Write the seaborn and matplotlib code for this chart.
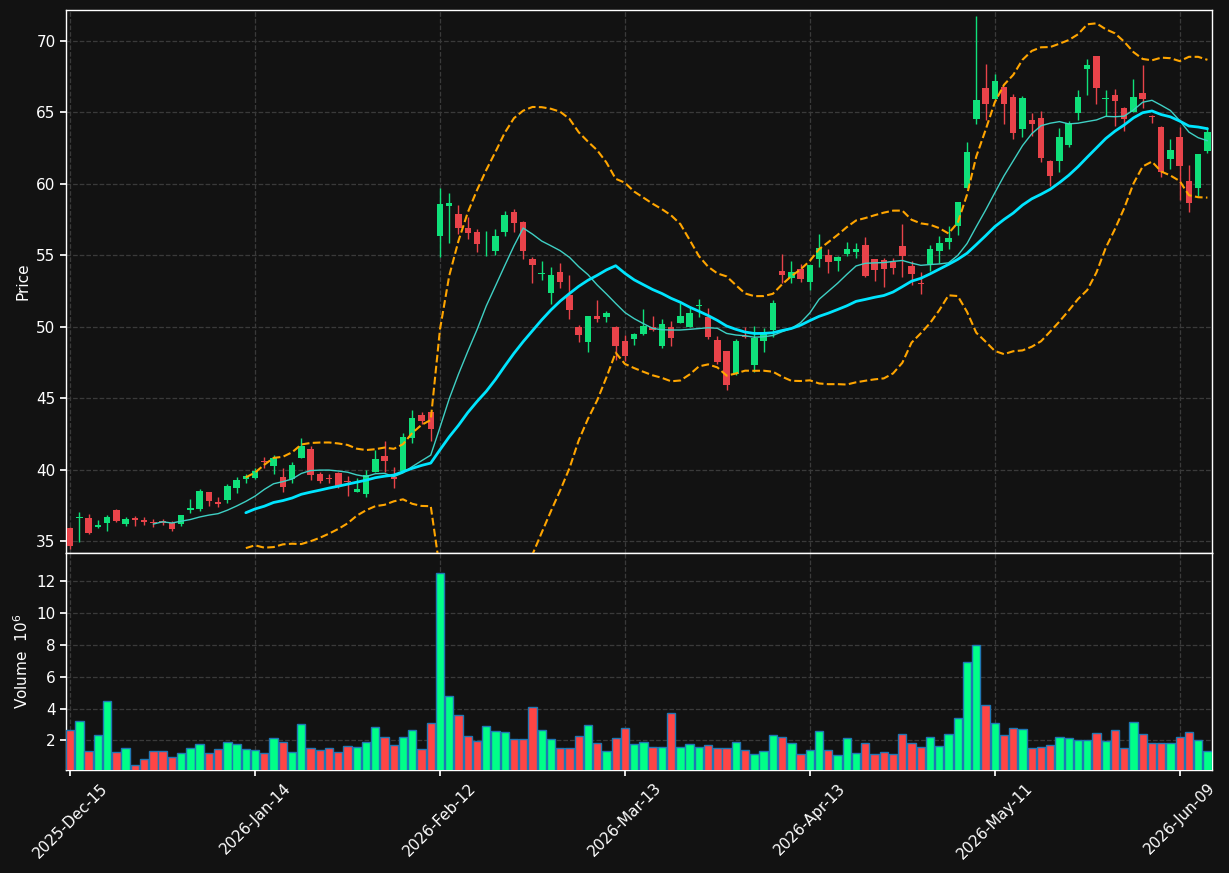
import numpy as np
import pandas as pd
import matplotlib
matplotlib.use("Agg")
import matplotlib.pyplot as plt
import seaborn as sns

# daily OHLC
opens = [35.94, 36.60, 36.64, 35.96, 36.29, 37.20, 36.22, 36.60, 36.50, 36.36,
         36.43, 36.27, 36.22, 37.14, 37.23, 38.40, 37.70, 37.86, 38.71, 39.32,
         39.41, 40.61, 40.23, 39.46, 39.34, 40.80, 41.43, 39.69, 39.41, 39.77,
         39.20, 38.43, 38.31, 39.86, 40.94, 39.46, 39.91, 42.20, 43.83, 44.04,
         56.35, 58.46, 57.87, 56.89, 56.61, 55.90, 55.27, 56.61, 58.04, 57.33,
         54.74, 53.66, 52.35, 53.80, 52.19, 50.01, 48.91, 50.78, 50.67, 50.01,
         48.97, 49.13, 49.48, 49.99, 48.62, 50.01, 50.24, 49.97, 51.47, 50.68,
         49.04, 48.27, 46.72, 49.36, 47.32, 48.99, 49.76, 53.91, 53.38, 54.05,
         53.10, 54.77, 55.02, 54.60, 55.09, 55.26, 55.73, 54.72, 54.68, 54.56,
         55.65, 54.26, 53.05, 54.37, 55.32, 55.96, 57.02, 59.69, 64.53, 66.71,
         65.94, 66.80, 66.11, 63.82, 64.50, 64.64, 61.63, 61.59, 62.75, 64.94,
         68.02, 68.97, 65.92, 66.25, 65.34, 65.03, 66.34, 64.78, 64.01, 61.73,
         63.29, 60.23, 59.70, 62.31]
highs = [35.96, 37.04, 36.90, 36.48, 36.85, 37.22, 36.71, 36.74, 36.71, 36.55,
         36.55, 36.43, 36.85, 37.96, 38.66, 38.42, 38.08, 38.97, 39.48, 39.69,
         40.12, 40.85, 41.00, 40.14, 40.52, 42.18, 41.62, 39.86, 39.69, 39.81,
         39.53, 39.41, 40.00, 41.36, 42.00, 40.19, 42.54, 44.15, 44.06, 44.06,
         59.74, 59.39, 58.53, 57.68, 56.87, 56.68, 56.87, 58.13, 58.22, 57.40,
         54.90, 54.57, 54.20, 54.48, 53.64, 50.15, 50.78, 51.84, 51.13, 50.03,
         49.43, 49.55, 51.24, 50.75, 50.55, 50.43, 51.64, 51.40, 51.96, 51.31,
         49.36, 48.29, 49.11, 49.97, 50.06, 49.90, 51.87, 55.07, 54.58, 54.40,
         54.33, 56.48, 55.42, 54.98, 55.92, 55.85, 56.27, 54.75, 54.84, 54.84,
         57.18, 54.63, 53.82, 55.72, 56.34, 57.02, 58.76, 62.96, 71.77, 68.41,
         67.71, 66.82, 66.29, 66.18, 64.97, 65.10, 61.65, 63.92, 64.43, 66.57,
         68.76, 68.99, 66.57, 66.64, 65.36, 67.34, 68.34, 64.80, 64.03, 63.15,
         63.99, 61.33, 62.12, 64.01]
lows = [34.44, 34.93, 35.49, 35.89, 35.70, 36.31, 36.03, 36.08, 36.10, 35.96,
        36.13, 35.73, 36.03, 36.95, 37.09, 37.44, 37.37, 37.68, 38.38, 39.08,
        39.34, 40.10, 39.70, 38.43, 39.08, 40.80, 39.30, 39.04, 39.08, 38.71,
        38.15, 38.43, 38.08, 39.86, 39.81, 38.71, 39.91, 41.88, 43.19, 41.97,
        54.90, 55.88, 56.47, 56.16, 55.23, 54.95, 55.04, 56.37, 56.63, 54.71,
        53.05, 53.24, 51.56, 52.73, 50.55, 48.91, 48.21, 50.34, 50.34, 47.70,
        47.58, 48.74, 49.43, 49.69, 48.48, 48.64, 50.24, 49.97, 50.68, 49.13,
        47.37, 45.60, 46.65, 49.20, 46.83, 48.25, 49.29, 53.05, 53.05, 53.12,
        52.54, 54.20, 53.73, 53.92, 54.95, 54.84, 53.45, 53.22, 52.78, 53.68,
        53.47, 52.94, 52.31, 53.91, 54.44, 55.45, 56.41, 59.69, 64.18, 64.48,
        65.94, 64.20, 63.15, 63.29, 63.33, 61.54, 59.84, 60.84, 62.59, 64.48,
        66.22, 65.59, 64.76, 64.03, 63.68, 65.03, 65.31, 64.27, 60.49, 61.05,
        58.90, 58.02, 59.14, 62.17]
closes = [34.62, 36.70, 35.59, 36.10, 36.71, 36.43, 36.57, 36.46, 36.36, 36.29,
          36.24, 35.82, 36.85, 37.28, 38.47, 37.77, 37.58, 38.87, 39.30, 39.53,
          39.93, 40.52, 40.80, 38.76, 40.30, 41.67, 39.60, 39.20, 39.32, 38.87,
          39.10, 38.62, 39.65, 40.73, 40.59, 39.32, 42.25, 43.62, 43.38, 42.84,
          58.57, 58.64, 56.89, 56.56, 55.79, 55.95, 56.33, 57.80, 57.26, 55.30,
          54.32, 53.78, 53.59, 53.12, 51.16, 49.40, 50.78, 50.53, 50.97, 48.68,
          47.93, 49.52, 50.08, 49.80, 50.22, 49.20, 50.78, 50.99, 51.54, 49.25,
          47.53, 45.93, 48.97, 49.27, 49.18, 49.52, 51.68, 53.65, 53.82, 53.31,
          54.33, 55.49, 54.55, 54.88, 55.42, 55.42, 53.54, 53.94, 54.03, 54.14,
          54.98, 53.66, 52.98, 55.44, 55.83, 56.20, 58.76, 62.20, 65.87, 65.61,
          67.18, 65.57, 63.54, 66.04, 64.17, 61.79, 60.54, 63.31, 64.27, 66.11,
          68.34, 66.69, 66.04, 65.78, 64.57, 66.11, 65.97, 64.66, 60.82, 62.40,
          61.28, 58.65, 62.12, 63.66]
# volume in millions
volume = [2.67, 3.22, 1.35, 2.34, 4.49, 1.29, 1.52, 0.47, 0.83, 1.33,
          1.33, 0.97, 1.22, 1.52, 1.77, 1.22, 1.46, 1.90, 1.77, 1.46,
          1.39, 1.22, 2.17, 1.90, 1.29, 3.03, 1.52, 1.39, 1.52, 1.29,
          1.66, 1.58, 1.90, 2.86, 2.23, 1.71, 2.23, 2.65, 1.46, 3.09,
          12.52, 4.79, 3.59, 2.29, 1.96, 2.90, 2.59, 2.52, 2.08, 2.08,
          4.10, 2.65, 2.08, 1.52, 1.52, 2.29, 2.96, 1.83, 1.33, 2.17,
          2.78, 1.77, 1.90, 1.58, 1.58, 3.72, 1.58, 1.77, 1.58, 1.71,
          1.52, 1.52, 1.90, 1.39, 1.14, 1.33, 2.34, 2.21, 1.83, 1.14,
          1.39, 2.59, 1.39, 1.08, 2.15, 1.20, 1.83, 1.14, 1.27, 1.14,
          2.40, 1.83, 1.58, 2.21, 1.65, 2.40, 3.40, 6.93, 8.00, 4.22,
          3.09, 2.34, 2.78, 2.72, 1.52, 1.58, 1.71, 2.21, 2.15, 2.02,
          2.02, 2.46, 1.96, 2.65, 1.52, 3.15, 2.40, 1.83, 1.83, 1.83,
          2.21, 2.52, 2.02, 1.33]

holidays = ["2025-12-25", "2026-01-01", "2026-01-19", "2026-02-16",
            "2026-04-03", "2026-05-25"]
dates = pd.bdate_range("2025-12-15", periods=len(closes), freq="C", holidays=holidays)

df = pd.DataFrame({"open": opens, "high": highs, "low": lows,
                   "close": closes, "volume": volume}, index=dates)
df["i"] = np.arange(len(df))
df["mav10"] = df["close"].rolling(10).mean()
df["mav20"] = df["close"].rolling(20).mean()
std20 = df["close"].rolling(20).std(ddof=0)
df["bb_up"] = df["mav20"] + 2 * std20
df["bb_lo"] = df["mav20"] - 2 * std20
up = df["close"] >= df["open"]

BG = "#121212"
sns.set_theme(style="dark", rc={
    "figure.facecolor": BG, "axes.facecolor": BG, "axes.edgecolor": "white",
    "axes.labelcolor": "white", "xtick.color": "white", "ytick.color": "white",
    "text.color": "white", "axes.grid": True, "grid.color": "#3a3a3a",
    "grid.linestyle": "--", "grid.linewidth": 0.9,
    "xtick.bottom": True, "ytick.left": True,
})
plt.rcParams["font.family"] = ["DejaVu Sans"]

fig = plt.figure(figsize=(12.29, 8.73), dpi=100)
ax = fig.add_axes([0.0537, 0.3666, 0.9325, 0.622])
axv = fig.add_axes([0.0537, 0.118, 0.9325, 0.2486], sharex=ax)

# candles
body_col = np.where(up, "#0fe07a", "#e8434a")
body_lo = np.minimum(df["open"], df["close"])
body_h = np.maximum((df["close"] - df["open"]).abs(), 0.04)
ax.vlines(df["i"], df["low"], df["high"], colors=body_col, linewidth=1.0, zorder=3)
ax.bar(df["i"], body_h, bottom=body_lo, width=0.7, color=body_col, linewidth=0, zorder=4)

# moving averages and bands
sns.lineplot(x=df["i"], y=df["mav10"], ax=ax, color="#3fd0c4", linewidth=1.0, zorder=5)
sns.lineplot(x=df["i"], y=df["mav20"], ax=ax, color="#00e5ff", linewidth=2.0, zorder=5)
sns.lineplot(x=df["i"], y=df["bb_up"], ax=ax, color="#ffa500", linewidth=1.5,
             linestyle="--", zorder=5)
sns.lineplot(x=df["i"], y=df["bb_lo"], ax=ax, color="#ffa500", linewidth=1.5,
             linestyle="--", zorder=5)

ax.set_ylim(34.16, 72.18)
ax.set_xlim(-0.45, len(df) - 0.5)
ax.set_ylabel("Price", fontsize=11)
ax.set_xlabel("")
ax.tick_params(axis="x", labelbottom=False, length=0)
ax.tick_params(axis="y", labelsize=11, length=4)

# volume
vol_col = np.where(up, "#00ff88", "#ff4545")
axv.bar(df["i"], df["volume"], width=0.9, color=vol_col, edgecolor="#1f77b4",
        linewidth=1.0, zorder=3)
axv.set_ylim(0.3 * df["volume"].min(), 1.1 * df["volume"].max())
axv.set_yticks([2, 4, 6, 8, 10, 12])
axv.set_ylabel("Volume  $10^{6}$", fontsize=11)
axv.tick_params(axis="y", labelsize=11, length=4)

tick_pos = df["i"].values[::20]
tick_lab = dates[::20].strftime("%Y-%b-%d")
axv.set_xticks(tick_pos)
axv.set_xticklabels(tick_lab, rotation=45, ha="center", fontsize=11)
axv.tick_params(axis="x", length=4)

for a in (ax, axv):
    for s in a.spines.values():
        s.set_color("white")
        s.set_linewidth(1.0)

fig.savefig("out.png", dpi=100, facecolor=BG)
